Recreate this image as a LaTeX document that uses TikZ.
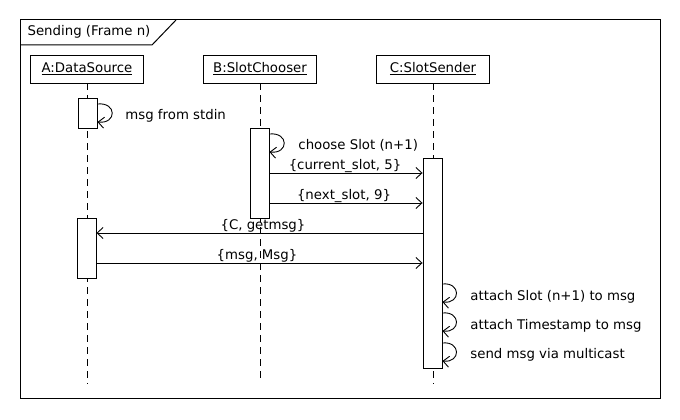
\documentclass[tikz,border=0pt]{standalone}
\usepackage{fontspec}
\setmainfont{DejaVu Sans}
\usetikzlibrary{arrows.meta}
\begin{document}
\begin{tikzpicture}[x=1pt,y=-1pt,line width=0.9pt,
  every node/.style={font=\fontsize{13.3}{15}\selectfont},
  head/.style={draw,rectangle,minimum width=113,minimum height=28,inner sep=0pt},
  act/.style={draw,fill=white,rectangle,minimum width=19,inner sep=0pt},
  life/.style={dash pattern=on 7pt off 5pt},
  msg/.style={-{Straight Barb[length=6pt,width=11pt]}},
  lbl/.style={inner sep=0pt,anchor=west},
  mlbl/.style={inner sep=0pt}]
\useasboundingbox (0,0) rectangle (680,420);
% frame
\draw[line width=1pt] (20,20) rectangle (660,398);
\coordinate (f1) at (20,45);
\coordinate (f2) at (152,45);
\coordinate (f3) at (176,20);
\draw[line width=1pt] (f1) -- (f2) -- (f3);
\node[mlbl] (title) at (89,32) {Sending (Frame n)};
% heads
\node[head] (A) at (87,69) {\underline{A:DataSource}};
\node[head] (B) at (260,69) {\underline{B:SlotChooser}};
\node[head] (C) at (433,69) {\underline{C:SlotSender}};
\coordinate (Aend) at (87,384);
\coordinate (Bend) at (260,383);
\coordinate (Cend) at (433,384);
\draw[life] (A.south) -- (Aend);
\draw[life] (B.south) -- (Bend);
\draw[life] (C.south) -- (Cend);
% activations
\node[act,minimum height=30] (a1) at (87.5,113) {};
\node[act,minimum height=90] (b1) at (259.5,173) {};
\node[act,minimum height=210] (c1) at (432.5,263) {};
\node[act,minimum height=60] (a2) at (86.5,248) {};
% self loops
\draw[msg] (a1.east |- 0,104) .. controls (117,102) and (117,124) .. (a1.east |- 0,122);
\node[lbl] (l1) at (125,116) {msg from stdin};
\draw[msg] (b1.east |- 0,134) .. controls (289,132) and (289,154) .. (b1.east |- 0,152);
\node[lbl] (l2) at (298,145) {choose Slot (n+1)};
% messages
\draw[msg] (b1.east |- 0,173) -- (c1.west |- 0,173);
\node[mlbl] (m1) at (345,166) {\{current\_slot, 5\}};
\draw[msg] (b1.east |- 0,203) -- (c1.west |- 0,203);
\node[mlbl] (m2) at (344,196) {\{next\_slot, 9\}};
\draw[msg] (c1.west |- 0,233) -- (a2.east |- 0,233);
\node[mlbl] (m3) at (263,226) {\{C, getmsg\}};
\draw[msg] (a2.east |- 0,263) -- (c1.west |- 0,263);
\node[mlbl] (m4) at (257,256) {\{msg, Msg\}};
% C self loops
\draw[msg] (c1.east |- 0,284) .. controls (461,282) and (461,304) .. (c1.east |- 0,302);
\node[lbl] (l3) at (470,297) {attach Slot (n+1) to msg};
\draw[msg] (c1.east |- 0,313) .. controls (461,311) and (461,333) .. (c1.east |- 0,331);
\node[lbl] (l4) at (470,326) {attach Timestamp to msg};
\draw[msg] (c1.east |- 0,343) .. controls (461,341) and (461,363) .. (c1.east |- 0,361);
\node[lbl] (l5) at (470,355) {send msg via multicast};
\end{tikzpicture}
\end{document}
